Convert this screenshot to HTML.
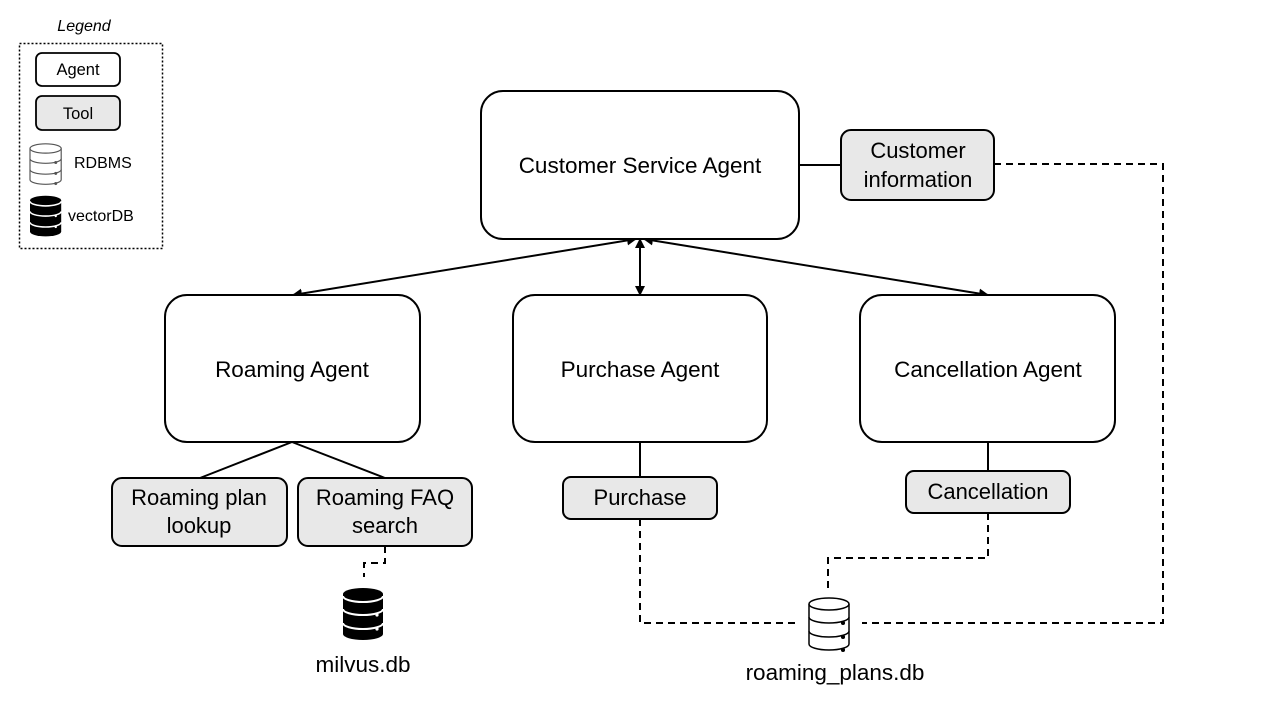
<!DOCTYPE html>
<html><head><meta charset="utf-8"><style>
html,body{margin:0;padding:0;background:#fff;}
svg{display:block;font-family:"Liberation Sans",sans-serif;}
</style></head><body>
<svg width="1280" height="720" viewBox="0 0 1280 720" xmlns="http://www.w3.org/2000/svg">
<defs>
<marker id="ah" viewBox="0 0 10 10" refX="9" refY="5" markerWidth="5" markerHeight="5" orient="auto-start-reverse"><path d="M0,0 L10,5 L0,10 z" fill="#000"/></marker>
</defs>
<rect width="1280" height="720" fill="#fff"/>
<!-- Legend -->
<text x="84" y="31" font-size="16" font-style="italic" text-anchor="middle">Legend</text>
<rect x="19.5" y="43.5" width="143" height="205" fill="none" stroke="#000" stroke-width="1.5" stroke-dasharray="2,2"/>
<rect x="36" y="53" width="84" height="33" rx="6" fill="#fff" stroke="#000" stroke-width="1.8"/>
<text x="78" y="75" font-size="16.5" text-anchor="middle">Agent</text>
<rect x="36" y="96" width="84" height="34" rx="6" fill="#e8e8e8" stroke="#000" stroke-width="1.8"/>
<text x="78" y="119" font-size="16.5" text-anchor="middle">Tool</text>
<g transform="translate(30,143) scale(0.78)" fill="#fff" stroke="#555" stroke-width="1.5">
<path d="M0,7 V47 A20,6 0 0 0 40,47 V7"/><ellipse cx="20" cy="7" rx="20" ry="6"/>
<path d="M0,20 A20,6 0 0 0 40,20 M0,34 A20,6 0 0 0 40,34"/>
<circle cx="33" cy="25" r="1.2" fill="#555"/><circle cx="33" cy="39" r="1.2" fill="#555"/><circle cx="33" cy="52" r="1.2" fill="#555"/>
</g>
<text x="74" y="168" font-size="16">RDBMS</text>
<g transform="translate(30,195) scale(0.78)">
<path d="M0,7 V47 A20,6 0 0 0 40,47 V7 Z" fill="#000"/><ellipse cx="20" cy="7" rx="20" ry="6" fill="#000"/>
<path d="M0,8 A20,6 0 0 0 40,8 M0,21 A20,6 0 0 0 40,21 M0,35 A20,6 0 0 0 40,35" fill="none" stroke="#fff" stroke-width="2"/>
<circle cx="33" cy="27" r="1.5" fill="#fff"/><circle cx="33" cy="41" r="1.5" fill="#fff"/>
</g>
<text x="68" y="221" font-size="16">vectorDB</text>

<!-- connectors -->
<g stroke="#000" stroke-width="2" fill="none">
<line x1="636" y1="239" x2="293" y2="295" marker-start="url(#ah)" marker-end="url(#ah)"/>
<line x1="640" y1="239" x2="640" y2="295" marker-start="url(#ah)" marker-end="url(#ah)"/>
<line x1="644" y1="239" x2="988" y2="295" marker-start="url(#ah)" marker-end="url(#ah)"/>
<line x1="799" y1="165" x2="841" y2="165"/>
<line x1="292" y1="442" x2="200" y2="478"/>
<line x1="292" y1="442" x2="385" y2="478"/>
<line x1="640" y1="442" x2="640" y2="477"/>
<line x1="988" y1="442" x2="988" y2="471"/>
</g>
<g stroke="#000" stroke-width="2" fill="none" stroke-dasharray="7,5">
<polyline points="994,164 1163,164 1163,623 862,623"/>
<polyline points="988,513 988,558 828,558 828,590"/>
<polyline points="640,519 640,623 800,623"/>
<polyline points="385,546 385,563 364,563 364,577"/>
</g>

<!-- agent boxes -->
<g fill="#fff" stroke="#000" stroke-width="2">
<rect x="481" y="91" width="318" height="148" rx="22"/>
<rect x="165" y="295" width="255" height="147" rx="22"/>
<rect x="513" y="295" width="254" height="147" rx="22"/>
<rect x="860" y="295" width="255" height="147" rx="22"/>
</g>
<g font-size="22.5" text-anchor="middle">
<text x="640" y="173">Customer Service Agent</text>
<text x="292" y="377">Roaming Agent</text>
<text x="640" y="377">Purchase Agent</text>
<text x="988" y="377">Cancellation Agent</text>
</g>
<!-- tools -->
<g fill="#e8e8e8" stroke="#000" stroke-width="2">
<rect x="841" y="130" width="153" height="70" rx="10"/>
<rect x="112" y="478" width="175" height="68" rx="10"/>
<rect x="298" y="478" width="174" height="68" rx="10"/>
<rect x="563" y="477" width="154" height="42" rx="8"/>
<rect x="906" y="471" width="164" height="42" rx="8"/>
</g>
<g font-size="22" text-anchor="middle">
<text x="918" y="158">Customer</text><text x="918" y="187">information</text>
<text x="199" y="505">Roaming plan</text><text x="199" y="533">lookup</text>
<text x="385" y="505">Roaming FAQ</text><text x="385" y="533">search</text>
<text x="640" y="505">Purchase</text>
<text x="988" y="499">Cancellation</text>
</g>
<!-- DB icons -->
<g transform="translate(809,597)" fill="#fff" stroke="#000" stroke-width="1.5">
<path d="M0,7 V47 A20,6 0 0 0 40,47 V7"/><ellipse cx="20" cy="7" rx="20" ry="6"/>
<path d="M0,20 A20,6 0 0 0 40,20 M0,34 A20,6 0 0 0 40,34"/>
<circle cx="34" cy="26" r="1.3" fill="#000"/><circle cx="34" cy="40" r="1.3" fill="#000"/><circle cx="34" cy="53" r="1.3" fill="#000"/>
</g>
<text x="835" y="680" font-size="22.5" text-anchor="middle">roaming_plans.db</text>
<g transform="translate(343,587)">
<path d="M0,7 V47 A20,6 0 0 0 40,47 V7 Z" fill="#000"/><ellipse cx="20" cy="7" rx="20" ry="6" fill="#000"/>
<path d="M0,9 A20,6 0 0 0 40,9 M0,22 A20,6 0 0 0 40,22 M0,36 A20,6 0 0 0 40,36" fill="none" stroke="#fff" stroke-width="2"/>
<circle cx="34" cy="28" r="1.6" fill="#fff"/><circle cx="34" cy="42" r="1.6" fill="#fff"/>
</g>
<text x="363" y="672" font-size="22.5" text-anchor="middle">milvus.db</text>
</svg>
</body></html>
